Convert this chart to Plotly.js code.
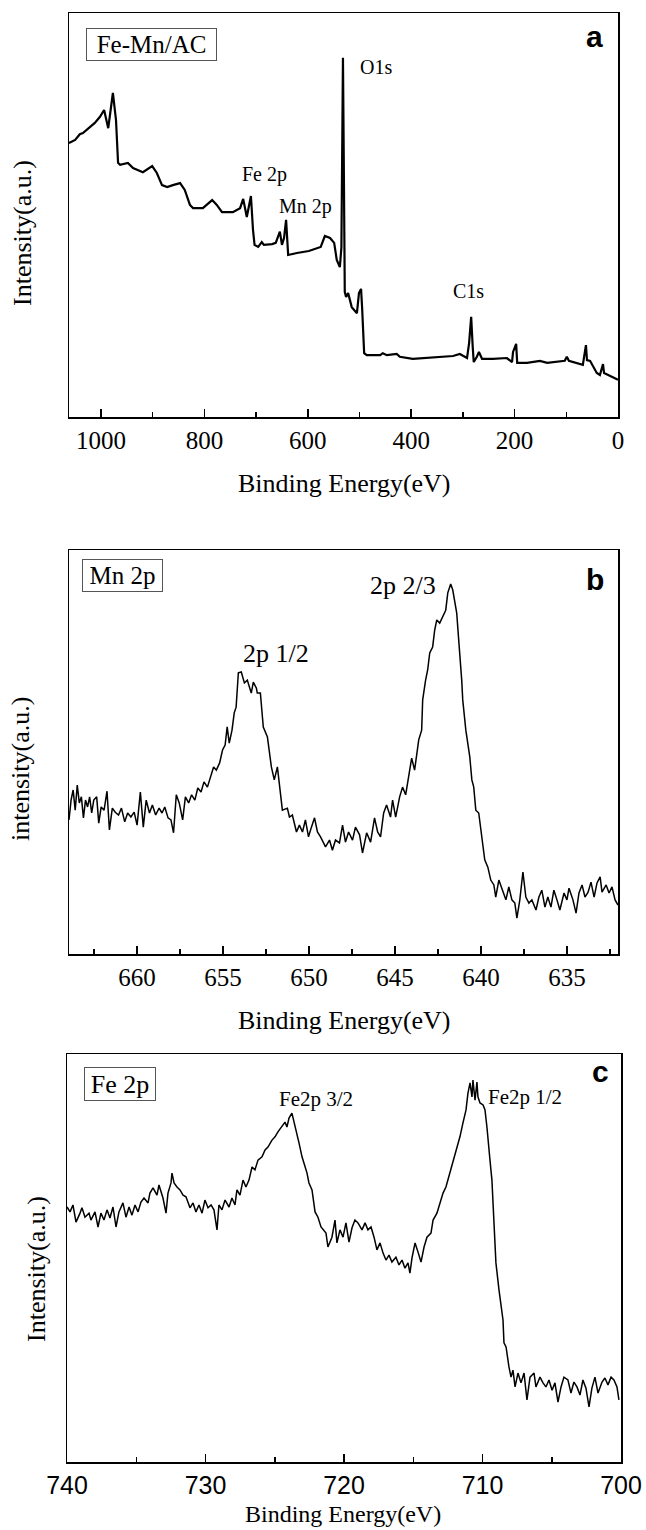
<!DOCTYPE html>
<html>
<head>
<meta charset="utf-8">
<script src="https://cdn.plot.ly/plotly-3.0.1.min.js"></script>
<style>html,body{margin:0;padding:0;background:#fff;}#chart{width:646px;height:1530px;}</style>
</head>
<body>
<div id="chart"></div>
<script>
// ---------- Panel a : survey spectrum ----------
const aEnergy = [1062,1050,1041,1035,1021,1012,1002,994,986,983,977,971,967,963,948,938,919,901,892,882,872,861,847,838,828,822,803,785,776,766,745,731,725,718,710,706,703,696,689,685,669,662,658,654,650,646,642,638,621,598,575,567,557,549,544,538,535,533.5,532,530.5,528.5,526,522,515,505,501,497,495,491,486,460,455,447,428,422,397,369,344,319,306,292,288,284,281,279,273,269,263,242,215,205,203,197,195,176,151,137,103,99,95,74,68,62,60,54,48,41,35,29,27,19,10,0];
const aIntensity = [67.8,68.6,70.0,70.3,71.8,72.8,74.3,76.0,71.5,74.8,80.2,73.5,62.9,62.4,62.9,61.6,60.6,62.1,60.4,57.4,56.9,57.4,57.9,56.2,52.5,51.7,51.7,53.7,52.5,50.7,50.7,51.7,54.0,49.5,54.7,46.3,42.6,42.1,43.3,42.6,42.8,43.1,44.8,45.9,42.6,44.3,48.8,40.1,40.6,41.1,42.1,44.8,44.3,43.1,38.9,37.1,42,65,88.9,65,31,29.7,30.7,27.2,25.7,30.7,31.7,27.2,15.8,15.3,15.3,15.8,15.3,15.6,14.9,14.4,14.6,14.9,15.1,15.6,14.6,18.3,24.8,17.3,13.6,14.9,16.1,14.4,14.4,14.6,13.6,16.1,18.1,13.4,13.4,13.9,13.4,13.9,14.9,13.9,13.1,12.9,17.8,14.1,13.9,12.4,10.9,10.4,13.1,10.9,10.4,9.9,9.2];
const aTicks = [1000,800,600,400,200,0];

// ---------- Panel b : Mn 2p ----------
const bEnergy = [663.96,663.84,663.72,663.60,663.48,663.36,663.24,663.12,663.00,662.88,662.76,662.64,662.52,662.35,662.23,662.09,661.92,661.75,661.61,661.44,661.27,661.08,660.91,660.72,660.55,660.36,660.17,660.00,659.81,659.64,659.47,659.28,659.11,658.92,658.72,658.55,658.39,658.20,658.03,657.88,657.72,657.55,657.35,657.19,657.00,656.83,656.64,656.47,656.28,656.11,655.91,655.75,655.55,655.39,655.20,655.03,654.88,654.76,654.64,654.48,654.35,654.24,654.11,653.94,653.76,653.59,653.36,653.24,653.06,653.01,652.83,652.66,652.42,652.19,652.02,651.84,651.67,651.55,651.26,651.14,650.97,650.73,650.56,650.38,650.21,650.03,649.86,649.68,649.51,649.33,649.04,648.81,648.64,648.46,648.23,648.05,647.88,647.70,647.47,647.30,647.06,646.89,646.65,646.42,646.19,646.01,645.84,645.66,645.49,645.26,645.14,644.96,644.73,644.56,644.38,644.21,644.03,643.86,643.74,643.62,643.45,643.39,643.22,643.10,642.98,642.81,642.69,642.57,642.40,642.22,642.05,641.93,641.76,641.64,641.53,641.41,641.35,641.23,641.12,641.06,640.88,640.65,640.53,640.42,640.30,640.13,639.95,639.78,639.60,639.43,639.25,639.14,638.96,638.73,638.55,638.38,638.20,638.03,637.91,637.74,637.56,637.39,637.21,637.04,636.80,636.63,636.46,636.28,636.11,635.93,635.76,635.58,635.41,635.17,635.00,634.88,634.65,634.47,634.30,634.12,633.95,633.77,633.60,633.42,633.25,633.07,632.96,632.72,632.55,632.38,632.20,632.03];
const bIntensity = [33.2,38.1,40.6,35.6,41.8,37.4,38.9,33.7,38.1,36.4,38.9,34.9,38.1,38.9,32.4,36.4,35.6,40.3,30.7,36.1,35.1,34.4,36.1,32.7,34.9,33.9,35.1,31.9,40.1,31.4,38.1,34.9,36.9,34.4,36.1,34.9,36.4,33.7,33.2,30.0,39.4,37.4,33.2,38.9,37.4,39.4,38.1,41.1,40.1,42.6,41.3,43.8,46.3,45.5,47.3,50.5,51.7,56.2,52.2,55.4,59.7,61.1,69.6,69.8,67.1,67.8,64.6,67.3,65.8,64.6,64.6,56.2,53.7,46.3,43.1,46.3,39.9,35.6,36.1,33.9,34.4,30.2,31.9,30.2,33.2,29.0,31.4,33.7,30.2,29.0,26.5,28.2,25.7,28.2,27.5,31.9,27.7,30.2,28.2,31.4,29.5,25.0,30.0,27.7,33.7,30.2,29.0,34.9,36.9,33.9,38.1,33.9,38.9,41.3,39.4,43.6,48.5,45.5,48.8,53.0,55.4,62.9,67.8,70.3,74.5,76.0,80.2,82.7,81.9,83.4,85.1,89.4,91.6,90.1,86.9,84.4,80.9,74.5,67.8,62.9,55.4,48.8,43.1,41.3,35.6,34.9,28.2,23.3,21.5,18.3,17.1,14.1,18.3,15.3,13.4,16.6,13.4,12.6,8.9,13.4,20.3,14.1,12.6,13.4,10.9,14.1,15.8,11.6,14.1,11.6,15.8,13.4,10.9,15.1,13.4,16.3,13.4,10.1,15.1,17.1,14.1,15.3,17.8,14.1,17.6,19.1,15.3,17.1,15.1,16.6,13.4,12.1];
const bTicks = [660,655,650,645,640,635];

// ---------- Panel c : Fe 2p ----------
const cEnergy = [740.00,739.78,739.57,739.35,739.06,738.92,738.70,738.41,738.27,737.98,737.76,737.55,737.33,737.11,736.90,736.68,736.46,736.25,735.96,735.74,735.52,735.31,735.09,734.87,734.66,734.44,734.15,734.01,733.79,733.50,733.36,733.07,732.85,732.71,732.49,732.42,732.27,732.06,731.84,731.62,731.41,731.12,730.90,730.69,730.47,730.25,730.04,729.82,729.60,729.39,729.17,729.03,728.81,728.59,728.30,728.09,727.87,727.73,727.51,727.29,727.08,726.86,726.64,726.43,726.21,725.92,725.70,725.49,725.20,724.98,724.77,724.48,724.26,724.12,723.97,723.76,723.61,723.39,723.25,723.03,722.89,722.67,722.53,722.31,722.09,721.88,721.66,721.30,721.16,720.87,720.65,720.51,720.29,720.07,719.86,719.64,719.42,719.21,718.99,718.70,718.48,718.27,718.05,717.83,717.62,717.40,717.18,716.97,716.75,716.54,716.25,716.03,715.81,715.60,715.38,715.24,715.09,714.87,714.66,714.44,714.22,714.01,713.72,713.57,713.29,713.07,712.85,712.64,712.35,712.13,711.84,711.63,711.41,711.19,711.05,710.90,710.76,710.69,710.54,710.40,710.33,710.18,709.96,709.82,709.68,709.60,709.46,709.32,709.17,709.03,708.81,708.67,708.52,708.45,708.30,708.09,707.94,707.80,707.65,707.44,707.22,707.00,706.79,706.57,706.28,706.14,705.85,705.63,705.42,705.20,704.98,704.77,704.55,704.33,704.12,703.83,703.61,703.40,703.18,702.96,702.75,702.53,702.31,702.10,701.88,701.66,701.37,701.16,700.94,700.72,700.51,700.29,700.15];
const cIntensity = [62.5,61.3,63.0,58.8,61.0,62.3,60.0,61.0,59.3,61.3,57.6,61.0,59.3,61.8,59.8,62.5,57.6,61.3,63.5,60.0,62.5,60.5,63.0,61.3,63.7,64.7,63.5,65.9,67.2,65.4,67.9,64.7,61.0,65.9,68.4,70.8,68.4,67.4,66.7,65.4,65.0,62.3,63.5,61.3,63.0,61.0,64.2,62.3,63.0,61.8,56.9,63.0,61.8,64.2,62.5,64.7,63.0,66.7,65.4,69.1,67.4,69.1,72.3,71.6,74.0,74.8,76.5,77.2,78.9,79.7,80.9,82.1,83.3,82.1,84.3,85.5,83.1,79.7,78.2,74.8,73.3,70.8,68.4,66.7,61.3,60.0,57.6,56.1,52.7,55.1,59.3,53.7,56.9,55.1,58.6,53.9,57.4,59.3,58.6,56.9,58.6,56.9,57.6,55.1,52.0,53.7,51.2,49.5,50.7,49.0,50.2,48.3,49.5,47.5,48.8,46.3,50.0,53.7,51.5,49.0,52.7,55.1,56.1,59.3,61.0,63.5,65.9,67.4,70.8,73.3,77.2,79.7,83.1,86.3,90.4,92.9,89.5,93.6,88.7,93.1,89.5,88.0,87.5,86.3,82.1,78.2,74.0,69.1,56.9,48.8,42.2,38.0,34.8,29.2,28.2,23.3,20.8,22.5,18.4,21.8,19.4,21.8,15.2,20.8,21.8,18.4,20.8,19.4,18.4,20.1,17.6,19.4,14.7,18.4,20.8,20.1,16.9,19.6,18.4,16.4,20.1,18.1,13.5,18.1,20.8,16.9,19.6,20.6,18.9,20.8,20.1,18.4,15.2];
const cTicks = [740,730,720,710,700];

const SERIF = 'Liberation Serif, Times New Roman, serif';
const SANS = 'Liberation Sans, Arial, sans-serif';
const W = 646, H = 1530;
const px = v => v / W;
const py = v => 1 - v / H;

function xAxis(domain, range, ticks, minor, font, size, anchor) {
  return {
    domain: domain, range: range, anchor: anchor,
    tickmode: 'array', tickvals: ticks,
    ticks: 'inside', ticklen: 8, tickwidth: 1.5, tickcolor: '#000',
    showline: true, linewidth: 1.5, linecolor: '#000', mirror: true,
    showgrid: false, zeroline: false,
    tickfont: {family: font, size: size, color: '#000'},
    minor: {dtick: minor, tick0: 0, ticks: 'inside', ticklen: 5, tickwidth: 1.5, tickcolor: '#000', showgrid: false}
  };
}
function yAxis(domain, anchor) {
  return {
    domain: domain, range: [0, 100], anchor: anchor,
    showticklabels: false, ticks: '', showline: true, linewidth: 1.5,
    linecolor: '#000', mirror: true, showgrid: false, zeroline: false
  };
}

const traces = [
  {x: aEnergy, y: aIntensity, xaxis: 'x', yaxis: 'y', type: 'scatter', mode: 'lines', line: {color: '#000', width: 2.2}, hoverinfo: 'skip'},
  {x: bEnergy, y: bIntensity, xaxis: 'x2', yaxis: 'y2', type: 'scatter', mode: 'lines', line: {color: '#000', width: 1.5}, hoverinfo: 'skip'},
  {x: cEnergy, y: cIntensity, xaxis: 'x3', yaxis: 'y3', type: 'scatter', mode: 'lines', line: {color: '#000', width: 1.5}, hoverinfo: 'skip'}
];

function lbl(text, x, y, xref, yref, size, family, extra) {
  return Object.assign({text: text, x: x, y: y, xref: xref, yref: yref, showarrow: false,
    xanchor: 'center', yanchor: 'middle', font: {family: family || SERIF, size: size, color: '#000'}}, extra || {});
}
const boxStyle = {bordercolor: '#555', borderwidth: 1, borderpad: 0, bgcolor: '#fff'};

const annotations = [
  // panel a
  lbl('Fe-Mn/AC', 902.3, 92.2, 'x', 'y', 25, SERIF, Object.assign({width: 129, height: 31}, boxStyle)),
  lbl('<b>a</b>', 44.5, 94.3, 'x', 'y', 30, SANS),
  lbl('O1s', 468, 86.6, 'x', 'y', 20),
  lbl('Fe 2p', 684.7, 59.9, 'x', 'y', 20),
  lbl('Mn 2p', 605.4, 52.0, 'x', 'y', 20),
  lbl('C1s', 290.1, 31.2, 'x', 'y', 20),
  // panel b
  lbl('Mn 2p', 660.85, 93.7, 'x2', 'y2', 25, SERIF, Object.assign({width: 79, height: 31}, boxStyle)),
  lbl('<b>b</b>', 633.37, 92.6, 'x2', 'y2', 30, SANS),
  lbl('2p 1/2', 651.9, 74.3, 'x2', 'y2', 26),
  lbl('2p 2/3', 644.56, 91.3, 'x2', 'y2', 26),
  // panel c
  lbl('Fe 2p', 736.17, 92.6, 'x3', 'y3', 26, SERIF, Object.assign({width: 70, height: 32}, boxStyle)),
  lbl('<b>c</b>', 701.45, 95.8, 'x3', 'y3', 30, SANS),
  lbl('Fe2p 3/2', 722.02, 89.0, 'x3', 'y3', 21),
  lbl('Fe2p 1/2', 706.93, 89.5, 'x3', 'y3', 21),
  // axis titles
  lbl('Binding Energy(eV)', px(344), py(483), 'paper', 'paper', 26),
  lbl('Binding Energy(eV)', px(344), py(1020), 'paper', 'paper', 26),
  lbl('Binding Energy(eV)', px(343), py(1514), 'paper', 'paper', 24),
  lbl('Intensity(a.u.)', px(22), py(233), 'paper', 'paper', 26, SERIF, {textangle: -90}),
  lbl('intensity(a.u.)', px(20), py(769), 'paper', 'paper', 26, SERIF, {textangle: -90}),
  lbl('Intensity(a.u.)', px(36), py(1269), 'paper', 'paper', 26, SERIF, {textangle: -90})
];

const layout = {
  width: W, height: H,
  margin: {l: 0, r: 0, t: 0, b: 0, pad: 0},
  paper_bgcolor: '#fff', plot_bgcolor: '#fff',
  showlegend: false,
  xaxis: xAxis([px(69), px(618)], [1061.9, 0], aTicks, 100, SERIF, 25, 'y'),
  yaxis: yAxis([py(417), py(13)], 'x'),
  xaxis2: xAxis([px(69), px(618)], [663.96, 632.03], bTicks, 2.5, SERIF, 25, 'y2'),
  yaxis2: yAxis([py(954), py(550)], 'x2'),
  xaxis3: xAxis([px(67), px(621)], [740, 700], cTicks, 5, SANS, 25, 'y3'),
  yaxis3: yAxis([py(1462), py(1054)], 'x3'),
  annotations: annotations
};

Plotly.newPlot('chart', traces, layout, {staticPlot: true, displayModeBar: false});
</script>
</body>
</html>
